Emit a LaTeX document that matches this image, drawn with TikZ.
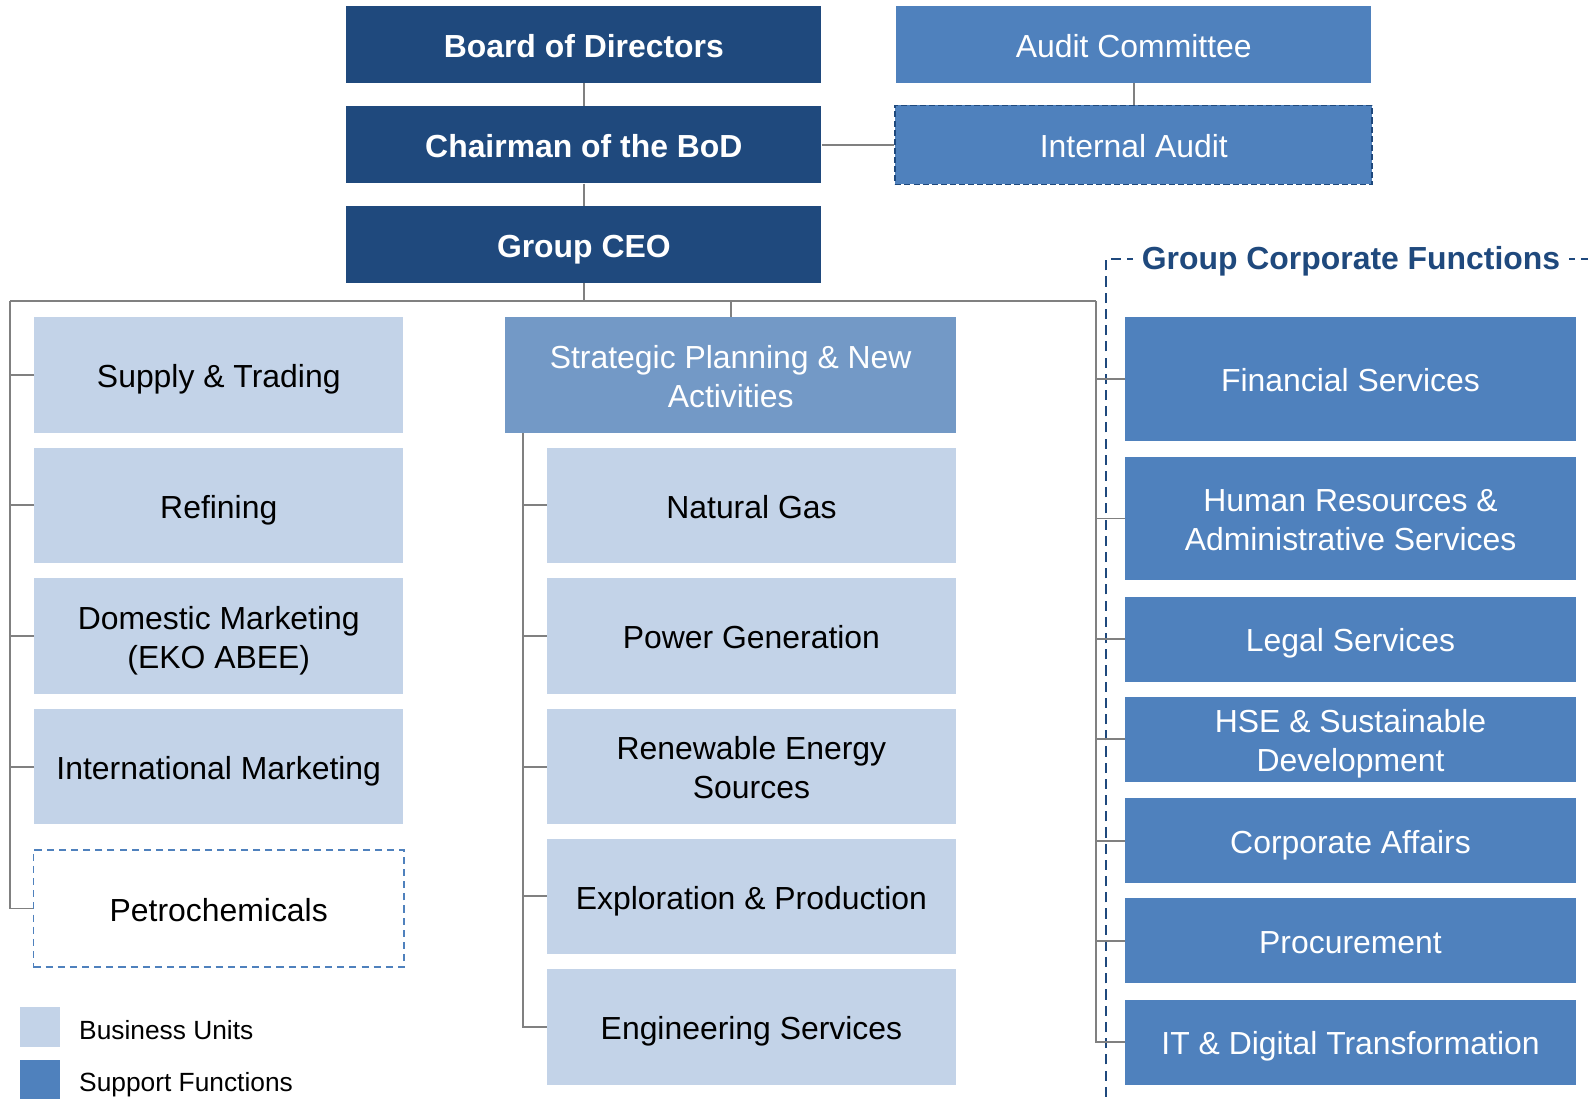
\documentclass[tikz,border=0pt]{standalone}
\usepackage{fontspec}
\setmainfont{Liberation Sans}
\begin{document}
\definecolor{navy}{HTML}{1F497D}
\definecolor{supp}{HTML}{4F81BD}
\definecolor{midb}{HTML}{7399C6}
\definecolor{light}{HTML}{C3D3E8}
\definecolor{conng}{HTML}{808080}
\begin{tikzpicture}[x=1pt,y=-1pt,
  box/.style={inner sep=0pt, align=center, font=\fontsize{31.5}{38.5}\selectfont,
    text height=32.2pt, text depth=7pt},
  two lines/.style={text height=70.7pt},
  topbox/.style={box, fill=navy, text=white, font=\bfseries\fontsize{31.5}{38.5}\selectfont, minimum width=469, minimum height=76},
  suppbox/.style={box, fill=supp, text=white},
  bubox/.style={box, fill=light, text=black},
  conn/.style={draw=conng, line width=1.8pt},
  legtext/.style={anchor=west, inner sep=0pt, font=\fontsize{26}{30}\selectfont}
]
\useasboundingbox (0,0) rectangle (1568,1085);

% governance boxes
\node[topbox] (bod) at (576.5,44) {Board of Directors};
\node[topbox] (chair) at (576.5,143) {Chairman of the BoD};
\node[topbox] (ceo) at (576.5,241.5) {Group CEO};
\node[suppbox, minimum width=469, minimum height=76] (ac) at (1119.5,44) {Audit Committee};
\node[suppbox, minimum width=471, minimum height=78, draw=navy, line width=1.6pt,
      dash pattern=on 6pt off 3pt] (ia) at (1119.5,143) {Internal Audit};

\draw[conn] (bod.south) -- (chair.north);
\draw[conn] (chair.south) -- (ceo.north);
\draw[conn] (ac.south) -- (ia.north);
\draw[conn] (chair.east) -- (ia.west);

% corporate functions frame
\draw[navy, line width=2.4pt, dash pattern=on 10pt off 6pt] (1092,1083) -- (1092,256) -- (1600,256);
\node[fill=white, text=navy, font=\bfseries\fontsize{31.5}{38}\selectfont, inner xsep=9pt, inner ysep=2pt]
  (gcf) at (1334,258) {Group Corporate Functions};

% left column: business units
\node[bubox, minimum width=364, minimum height=115] (sup) at (216,370.5) {Supply \& Trading};
\node[bubox, minimum width=364, minimum height=114] (ref) at (216,499) {Refining};
\node[bubox, two lines, minimum width=364, minimum height=114] (dom) at (216,628) {Domestic Marketing\\(EKO ABEE)};
\node[bubox, minimum width=364, minimum height=114] (intm) at (216,757) {International Marketing};
\node[box, minimum width=366, minimum height=116, draw=supp, line width=1.6pt,
      dash pattern=on 7pt off 5pt] (pet) at (216,897) {Petrochemicals};

% middle column
\node[box, two lines, fill=midb, text=white, minimum width=445, minimum height=115] (spna) at (721.5,370.5)
  {Strategic Planning \& New\\Activities};
\node[bubox, minimum width=404, minimum height=114] (ng) at (742,499) {Natural Gas};
\node[bubox, minimum width=404, minimum height=114] (pg) at (742,628) {Power Generation};
\node[bubox, two lines, minimum width=404, minimum height=114] (res) at (742,757) {Renewable Energy\\Sources};
\node[bubox, minimum width=404, minimum height=114] (ep) at (742,885) {Exploration \& Production};
\node[bubox, minimum width=404, minimum height=114] (eng) at (742,1014) {Engineering Services};

% right column: support functions
\node[suppbox, minimum width=445, minimum height=122] (fin) at (1333.5,374) {Financial Services};
\node[suppbox, two lines, minimum width=445, minimum height=122] (hr) at (1333.5,512) {Human Resources \&\\Administrative Services};
\node[suppbox, minimum width=445, minimum height=84] (leg) at (1333.5,631) {Legal Services};
\node[suppbox, two lines, minimum width=445, minimum height=84] (hse) at (1333.5,730) {HSE \& Sustainable\\Development};
\node[suppbox, minimum width=445, minimum height=84] (corp) at (1333.5,830) {Corporate Affairs};
\node[suppbox, minimum width=445, minimum height=84] (proc) at (1333.5,929) {Procurement};
\node[suppbox, minimum width=445, minimum height=84] (itd) at (1333.5,1029) {IT \& Digital Transformation};

% reporting lines below the CEO
\coordinate (busL) at (10,297);
\coordinate (busR) at (1082,297);
\coordinate (midtop) at (516,428);
\draw[conn] (ceo.south) -- (ceo.south |- busL);
\draw[conn] (spna.north) -- (spna.north |- busL);
\draw[conn] (busL) -- (busR);
\draw[conn] (busL) |- (pet.west);
\foreach \n in {sup,ref,dom,intm} \draw[conn] (\n.west) -- (\n.west -| busL);
\draw[conn] (midtop) |- (eng.west);
\foreach \n in {ng,pg,res,ep} \draw[conn] (\n.west) -- (\n.west -| midtop);
\draw[conn] (busR) |- (itd.west);
\foreach \n in {fin,hr,leg,hse,corp,proc} \draw[conn] (\n.west) -- (\n.west -| busR);

% legend
\node[fill=light, minimum size=39pt, inner sep=0pt] (lgbu) at (39.5,1014) {};
\node[legtext] (lgbut) at (78,1017) {Business Units};
\node[fill=supp, minimum size=39pt, inner sep=0pt] (lgsf) at (39.5,1066) {};
\node[legtext] (lgsft) at (78,1071) {Support Functions};
\end{tikzpicture}
\end{document}
